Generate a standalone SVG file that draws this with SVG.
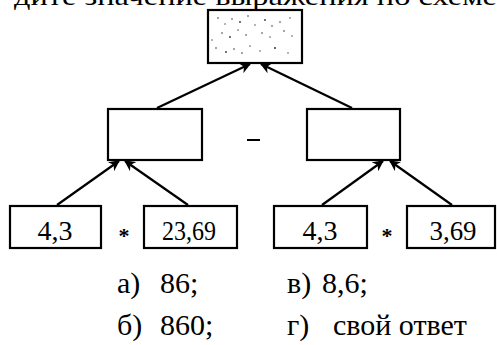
<svg xmlns="http://www.w3.org/2000/svg" width="497" height="345" viewBox="0 0 497 345">
<defs>
<style>
.box{fill:#fff;stroke:#000;stroke-width:2.2}
.ln{fill:none;stroke:#000;stroke-width:2.2}
text{font-family:'Liberation Serif','DejaVu Serif',serif;fill:#000}
.num{font-size:27px;text-anchor:middle}
.ans{font-size:30px}
.dot{fill:#333}
</style>
<marker id="ah" viewBox="0 0 10 10" refX="9" refY="5" markerWidth="5" markerHeight="5" orient="auto" markerUnits="strokeWidth">
<path d="M0,0 L10,5 L0,10 L3,5 z" fill="#000"/>
</marker>
</defs>
<rect width="497" height="345" fill="#fff"/>
<text x="14" y="5" font-size="26" textLength="483" lengthAdjust="spacingAndGlyphs">дите значение выражения по схеме</text>
<g id="connectors">
<line class="ln" x1="157" y1="108" x2="250" y2="64" marker-end="url(#ah)"/>
<line class="ln" x1="352" y1="108" x2="261" y2="64" marker-end="url(#ah)"/>
<line class="ln" x1="57" y1="205" x2="119" y2="161" marker-end="url(#ah)"/>
<line class="ln" x1="188" y1="205" x2="125" y2="161" marker-end="url(#ah)"/>
<line class="ln" x1="322" y1="205" x2="383" y2="161" marker-end="url(#ah)"/>
<line class="ln" x1="452" y1="205" x2="390" y2="161" marker-end="url(#ah)"/>
</g>
<g id="top">
<rect class="box" x="208" y="10" width="94" height="53"/>
<g class="dot">
<circle cx="218" cy="18" r="0.8"/><circle cx="225" cy="24" r="0.7"/><circle cx="232" cy="19" r="0.8"/><circle cx="240" cy="22" r="0.9"/><circle cx="248" cy="16" r="0.8"/><circle cx="255" cy="25" r="0.7"/><circle cx="265" cy="20" r="0.9"/><circle cx="272" cy="26" r="0.8"/><circle cx="280" cy="22" r="0.8"/><circle cx="290" cy="18" r="0.7"/>
<circle cx="222" cy="33" r="0.8"/><circle cx="230" cy="37" r="0.9"/><circle cx="238" cy="30" r="0.7"/><circle cx="246" cy="35" r="0.8"/><circle cx="262" cy="33" r="0.8"/><circle cx="270" cy="37" r="0.7"/><circle cx="284" cy="31" r="0.8"/><circle cx="292" cy="36" r="0.7"/>
<circle cx="216" cy="48" r="0.8"/><circle cx="226" cy="52" r="0.9"/><circle cx="234" cy="49" r="0.8"/><circle cx="242" cy="53" r="0.8"/><circle cx="250" cy="46" r="0.7"/><circle cx="260" cy="51" r="0.7"/><circle cx="275" cy="48" r="1"/><circle cx="288" cy="53" r="0.7"/><circle cx="212" cy="40" r="0.7"/>
</g>
</g>
<g id="mid-left"><rect class="box" x="108" y="109" width="94" height="51"/></g>
<g id="minus"><line x1="247" y1="140" x2="260" y2="140" stroke="#000" stroke-width="2"/></g>
<g id="mid-right"><rect class="box" x="307" y="109" width="93" height="51"/></g>
<g id="b1"><rect class="box" x="10" y="206" width="91" height="42"/><text class="num" x="55" y="240" textLength="35" lengthAdjust="spacingAndGlyphs">4,3</text></g>
<text x="124" y="243" font-size="22" font-weight="bold" text-anchor="middle">*</text>
<g id="b2"><rect class="box" x="144" y="206" width="93" height="42"/><text class="num" x="189" y="240" textLength="54" lengthAdjust="spacingAndGlyphs">23,69</text></g>
<g id="b3"><rect class="box" x="274" y="206" width="93" height="42"/><text class="num" x="320" y="240" textLength="35" lengthAdjust="spacingAndGlyphs">4,3</text></g>
<text x="387" y="243" font-size="22" font-weight="bold" text-anchor="middle">*</text>
<g id="b4"><rect class="box" x="407" y="206" width="88" height="42"/><text class="num" x="453" y="240" textLength="47" lengthAdjust="spacingAndGlyphs">3,69</text></g>
<g id="answers">
<text class="ans" x="117" y="293">а)</text><text class="ans" x="160" y="293">86;</text>
<text class="ans" x="287" y="293">в)</text><text class="ans" x="322" y="293">8,6;</text>
<text class="ans" x="117" y="335">б)</text><text class="ans" x="160" y="335">860;</text>
<text class="ans" x="287" y="335">г)</text><text class="ans" x="333" y="335">свой ответ</text>
</g>
</svg>
